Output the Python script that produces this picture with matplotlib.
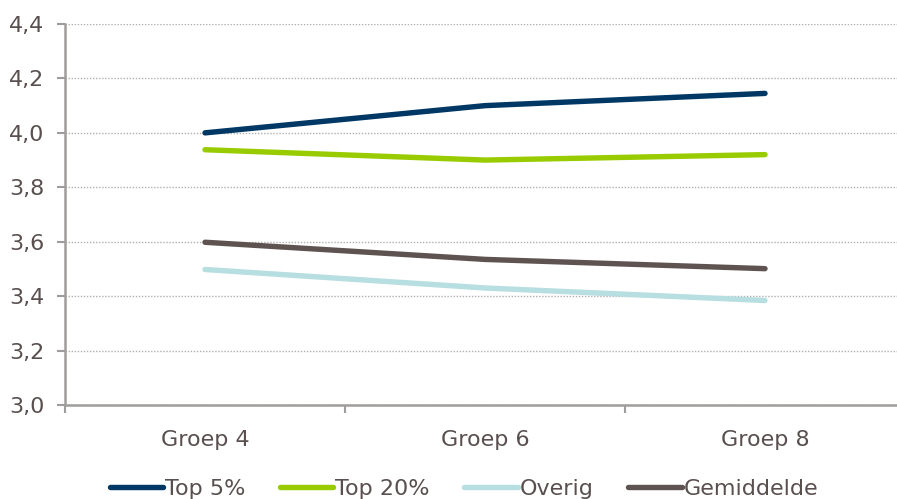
import matplotlib
matplotlib.use("Agg")
import matplotlib.pyplot as plt
from matplotlib.ticker import FixedLocator, FuncFormatter

categories = ["Groep 4", "Groep 6", "Groep 8"]
top5 = [4.00, 4.10, 4.145]
top20 = [3.938, 3.90, 3.92]
overig = [3.498, 3.43, 3.384]
gemiddelde = [3.598, 3.535, 3.501]
series_names = ["Top 5%", "Top 20%", "Overig", "Gemiddelde"]
colors = ["#003865", "#99CC00", "#B7DEE1", "#5F5352"]
yticks = [3.0, 3.2, 3.4, 3.6, 3.8, 4.0, 4.2, 4.4]

text_color = "#594f4f"
plt.rcParams['font.family'] = ['DejaVu Sans']

fig = plt.figure(figsize=(8.97, 4.99), dpi=100)
W, H = 897, 499
ax = fig.add_axes([65 / W, 94 / H, 840 / W, 381 / H])

x = list(range(len(categories)))
for vals, name, c in zip([top5, top20, overig, gemiddelde], series_names, colors):
    ax.plot(x, vals, color=c, lw=3.9, solid_capstyle="round", solid_joinstyle="round", label=name)

ax.set_xlim(-0.5, len(categories) - 0.5)
ax.set_ylim(3.0, 4.4)
ax.set_yticks(yticks)
ax.yaxis.set_major_formatter(FuncFormatter(lambda v, p: f"{v:.1f}".replace(".", ",")))
ax.set_xticks(x)
ax.set_xticklabels(categories)
ax.xaxis.set_minor_locator(FixedLocator([i - 0.5 for i in range(len(categories) + 1)]))
ax.tick_params(axis="x", which="major", length=0, pad=18, labelsize=16, labelcolor=text_color)
ax.tick_params(axis="x", which="minor", length=6, width=1.5, color="#a09c9c", direction="out")
ax.tick_params(axis="y", length=6, width=1.5, color="#a09c9c", pad=9, labelsize=16, labelcolor=text_color)

for s in ["top", "right"]:
    ax.spines[s].set_visible(False)
for s in ["left", "bottom"]:
    ax.spines[s].set_color("#a09c9c")
    ax.spines[s].set_linewidth(1.8)

ax.grid(axis="y", linestyle=(0, (1, 1.2)), color="#b0b0b0", lw=1.0)
ax.set_axisbelow(True)

leg = fig.legend(loc="center", bbox_to_anchor=(464 / W, 1 - 489 / H), ncol=4, frameon=False,
                 fontsize=16, handlelength=2.4, handletextpad=0.1, columnspacing=1.55,
                 labelcolor=text_color)
for line in leg.get_lines():
    line.set_linewidth(3.9)

fig.savefig("out.png", dpi=100)
